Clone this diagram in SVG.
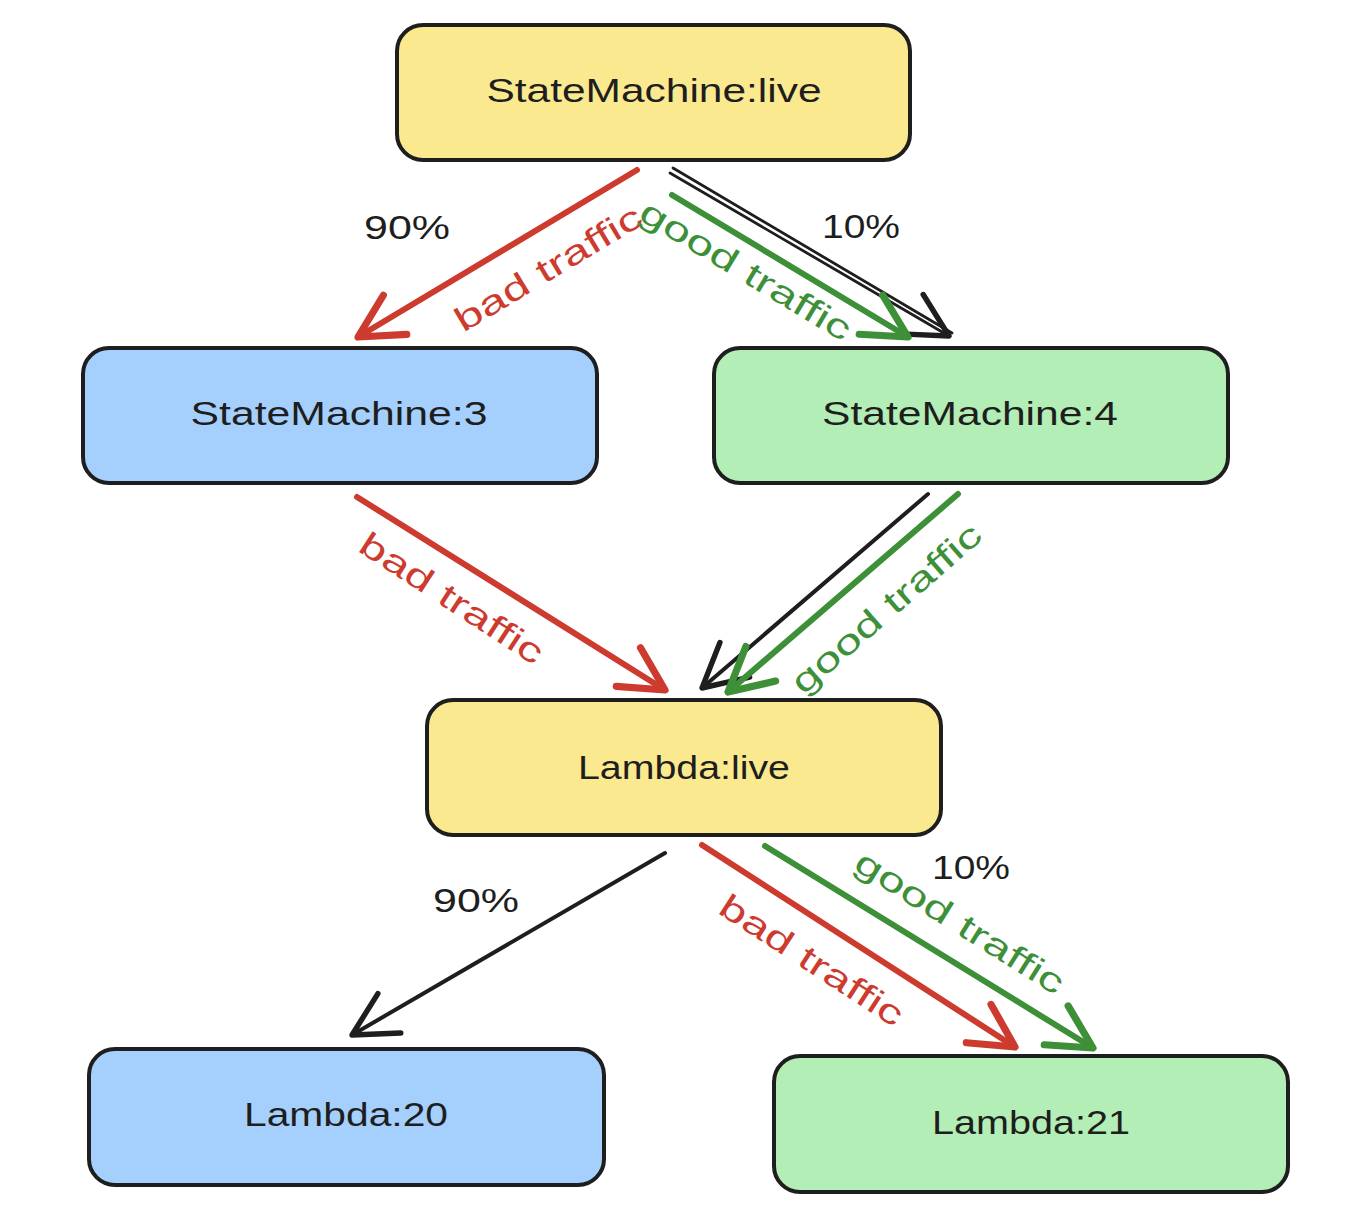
<svg xmlns="http://www.w3.org/2000/svg" width="1356" height="1220" viewBox="0 0 1356 1220">
<style>
.node{stroke:#1e1e1e;stroke-width:4;}
.yellow{fill:#fbe98f;}
.blue{fill:#a5d0fd;}
.green{fill:#b2eeb5;}
.lbl{font-family:"Liberation Sans",Arial,sans-serif;font-size:34px;fill:#1e1e1e;text-anchor:middle;}
.pct{font-family:"Liberation Sans",Arial,sans-serif;font-size:34px;fill:#1e1e1e;text-anchor:middle;}
.tr{font-family:"Liberation Sans",Arial,sans-serif;font-size:34px;text-anchor:middle;}
.tr-red{fill:#cd3b2f;}
.tr-green{fill:#3d9038;}
.c{fill:none;stroke-linecap:round;stroke-linejoin:round;}
.c-black{stroke:#1e1e1e;stroke-width:4;}
.c-red{stroke:#cd3b2f;stroke-width:6;}
.c-green{stroke:#3d9038;stroke-width:6;}
</style>
<defs>
<marker id="ah-black" markerUnits="userSpaceOnUse" markerWidth="60" markerHeight="60" viewBox="-45 -25 50 50" refX="0" refY="0" orient="auto">
<path d="M-36,-19 L0,0 L-36,19" fill="none" stroke="#1e1e1e" stroke-width="4.5" stroke-linecap="round" stroke-linejoin="round"/>
</marker>
<marker id="ah-red" markerUnits="userSpaceOnUse" markerWidth="60" markerHeight="60" viewBox="-45 -25 50 50" refX="0" refY="0" orient="auto">
<path d="M-36,-19 L0,0 L-36,19" fill="none" stroke="#cd3b2f" stroke-width="6" stroke-linecap="round" stroke-linejoin="round"/>
</marker>
<marker id="ah-green" markerUnits="userSpaceOnUse" markerWidth="60" markerHeight="60" viewBox="-45 -25 50 50" refX="0" refY="0" orient="auto">
<path d="M-36,-19 L0,0 L-36,19" fill="none" stroke="#3d9038" stroke-width="6" stroke-linecap="round" stroke-linejoin="round"/>
</marker>
</defs>
<rect width="1356" height="1220" fill="#ffffff"/>

<g id="connectors">
<g id="e-smlive-sm3-red">
<line class="c c-red" x1="637" y1="170" x2="358" y2="337" marker-end="url(#ah-red)"/>
<text class="tr tr-red" transform="translate(548,268) rotate(-31)" dy="0.35em" textLength="212" lengthAdjust="spacingAndGlyphs">bad traffic</text>
</g>
<text class="pct" x="407" y="239" textLength="86" lengthAdjust="spacingAndGlyphs">90%</text>
<g id="e-smlive-sm4-black">
<line class="c" stroke="#1e1e1e" stroke-width="2.8" x1="673" y1="168" x2="952" y2="333"/>
<line class="c" stroke="#1e1e1e" stroke-width="2.8" x1="670" y1="173" x2="949" y2="336" marker-end="url(#ah-black)"/>
</g>
<text class="pct" x="861" y="238" textLength="78" lengthAdjust="spacingAndGlyphs">10%</text>
<g id="e-smlive-sm4-green">
<line class="c c-green" x1="672" y1="195" x2="908" y2="337" marker-end="url(#ah-green)"/>
<text class="tr tr-green" transform="translate(746,270) rotate(31)" dy="0.35em" textLength="240" lengthAdjust="spacingAndGlyphs">good traffic</text>
</g>
<g id="e-sm3-lambdalive-red">
<line class="c c-red" x1="357" y1="497" x2="665" y2="690" marker-end="url(#ah-red)"/>
<text class="tr tr-red" transform="translate(452,598) rotate(33)" dy="0.35em" textLength="212" lengthAdjust="spacingAndGlyphs">bad traffic</text>
</g>
<g id="e-sm4-lambdalive-black">
<line class="c c-black" x1="928" y1="494" x2="702" y2="688" marker-end="url(#ah-black)"/>
</g>
<g id="e-sm4-lambdalive-green">
<line class="c c-green" x1="958" y1="494" x2="728" y2="692" marker-end="url(#ah-green)"/>
<text class="tr tr-green" transform="translate(886,608) rotate(-41)" dy="0.35em" textLength="240" lengthAdjust="spacingAndGlyphs">good traffic</text>
</g>
<g id="e-lambdalive-l20-black">
<line class="c c-black" x1="665" y1="853" x2="352" y2="1035" marker-end="url(#ah-black)"/>
</g>
<text class="pct" x="476" y="912" textLength="86" lengthAdjust="spacingAndGlyphs">90%</text>
<g id="e-lambdalive-l21-red">
<line class="c c-red" x1="702" y1="845" x2="1015" y2="1047" marker-end="url(#ah-red)"/>
<text class="tr tr-red" transform="translate(812,960) rotate(33)" dy="0.35em" textLength="212" lengthAdjust="spacingAndGlyphs">bad traffic</text>
</g>
<g id="e-lambdalive-l21-green">
<line class="c c-green" x1="765" y1="846" x2="1093" y2="1048" marker-end="url(#ah-green)"/>
<text class="tr tr-green" transform="translate(960,922) rotate(32)" dy="0.35em" textLength="240" lengthAdjust="spacingAndGlyphs">good traffic</text>
</g>
<text class="pct" x="971" y="879" textLength="78" lengthAdjust="spacingAndGlyphs">10%</text>
</g>

<g id="n-smlive">
<rect class="node yellow" x="397" y="25" width="513" height="135" rx="26"/>
<text class="lbl" x="654" y="102" textLength="335" lengthAdjust="spacingAndGlyphs">StateMachine:live</text>
</g>
<g id="n-sm3">
<rect class="node blue" x="83" y="348" width="514" height="135" rx="26"/>
<text class="lbl" x="339" y="425" textLength="297" lengthAdjust="spacingAndGlyphs">StateMachine:3</text>
</g>
<g id="n-sm4">
<rect class="node green" x="714" y="348" width="514" height="135" rx="26"/>
<text class="lbl" x="970" y="425" textLength="296" lengthAdjust="spacingAndGlyphs">StateMachine:4</text>
</g>
<g id="n-lambdalive">
<rect class="node yellow" x="427" y="700" width="514" height="135" rx="26"/>
<text class="lbl" x="684" y="779" textLength="212" lengthAdjust="spacingAndGlyphs">Lambda:live</text>
</g>
<g id="n-l20">
<rect class="node blue" x="89" y="1049" width="515" height="136" rx="26"/>
<text class="lbl" x="346" y="1126" textLength="204" lengthAdjust="spacingAndGlyphs">Lambda:20</text>
</g>
<g id="n-l21">
<rect class="node green" x="774" y="1056" width="514" height="136" rx="26"/>
<text class="lbl" x="1031" y="1134" textLength="198" lengthAdjust="spacingAndGlyphs">Lambda:21</text>
</g>
</svg>
